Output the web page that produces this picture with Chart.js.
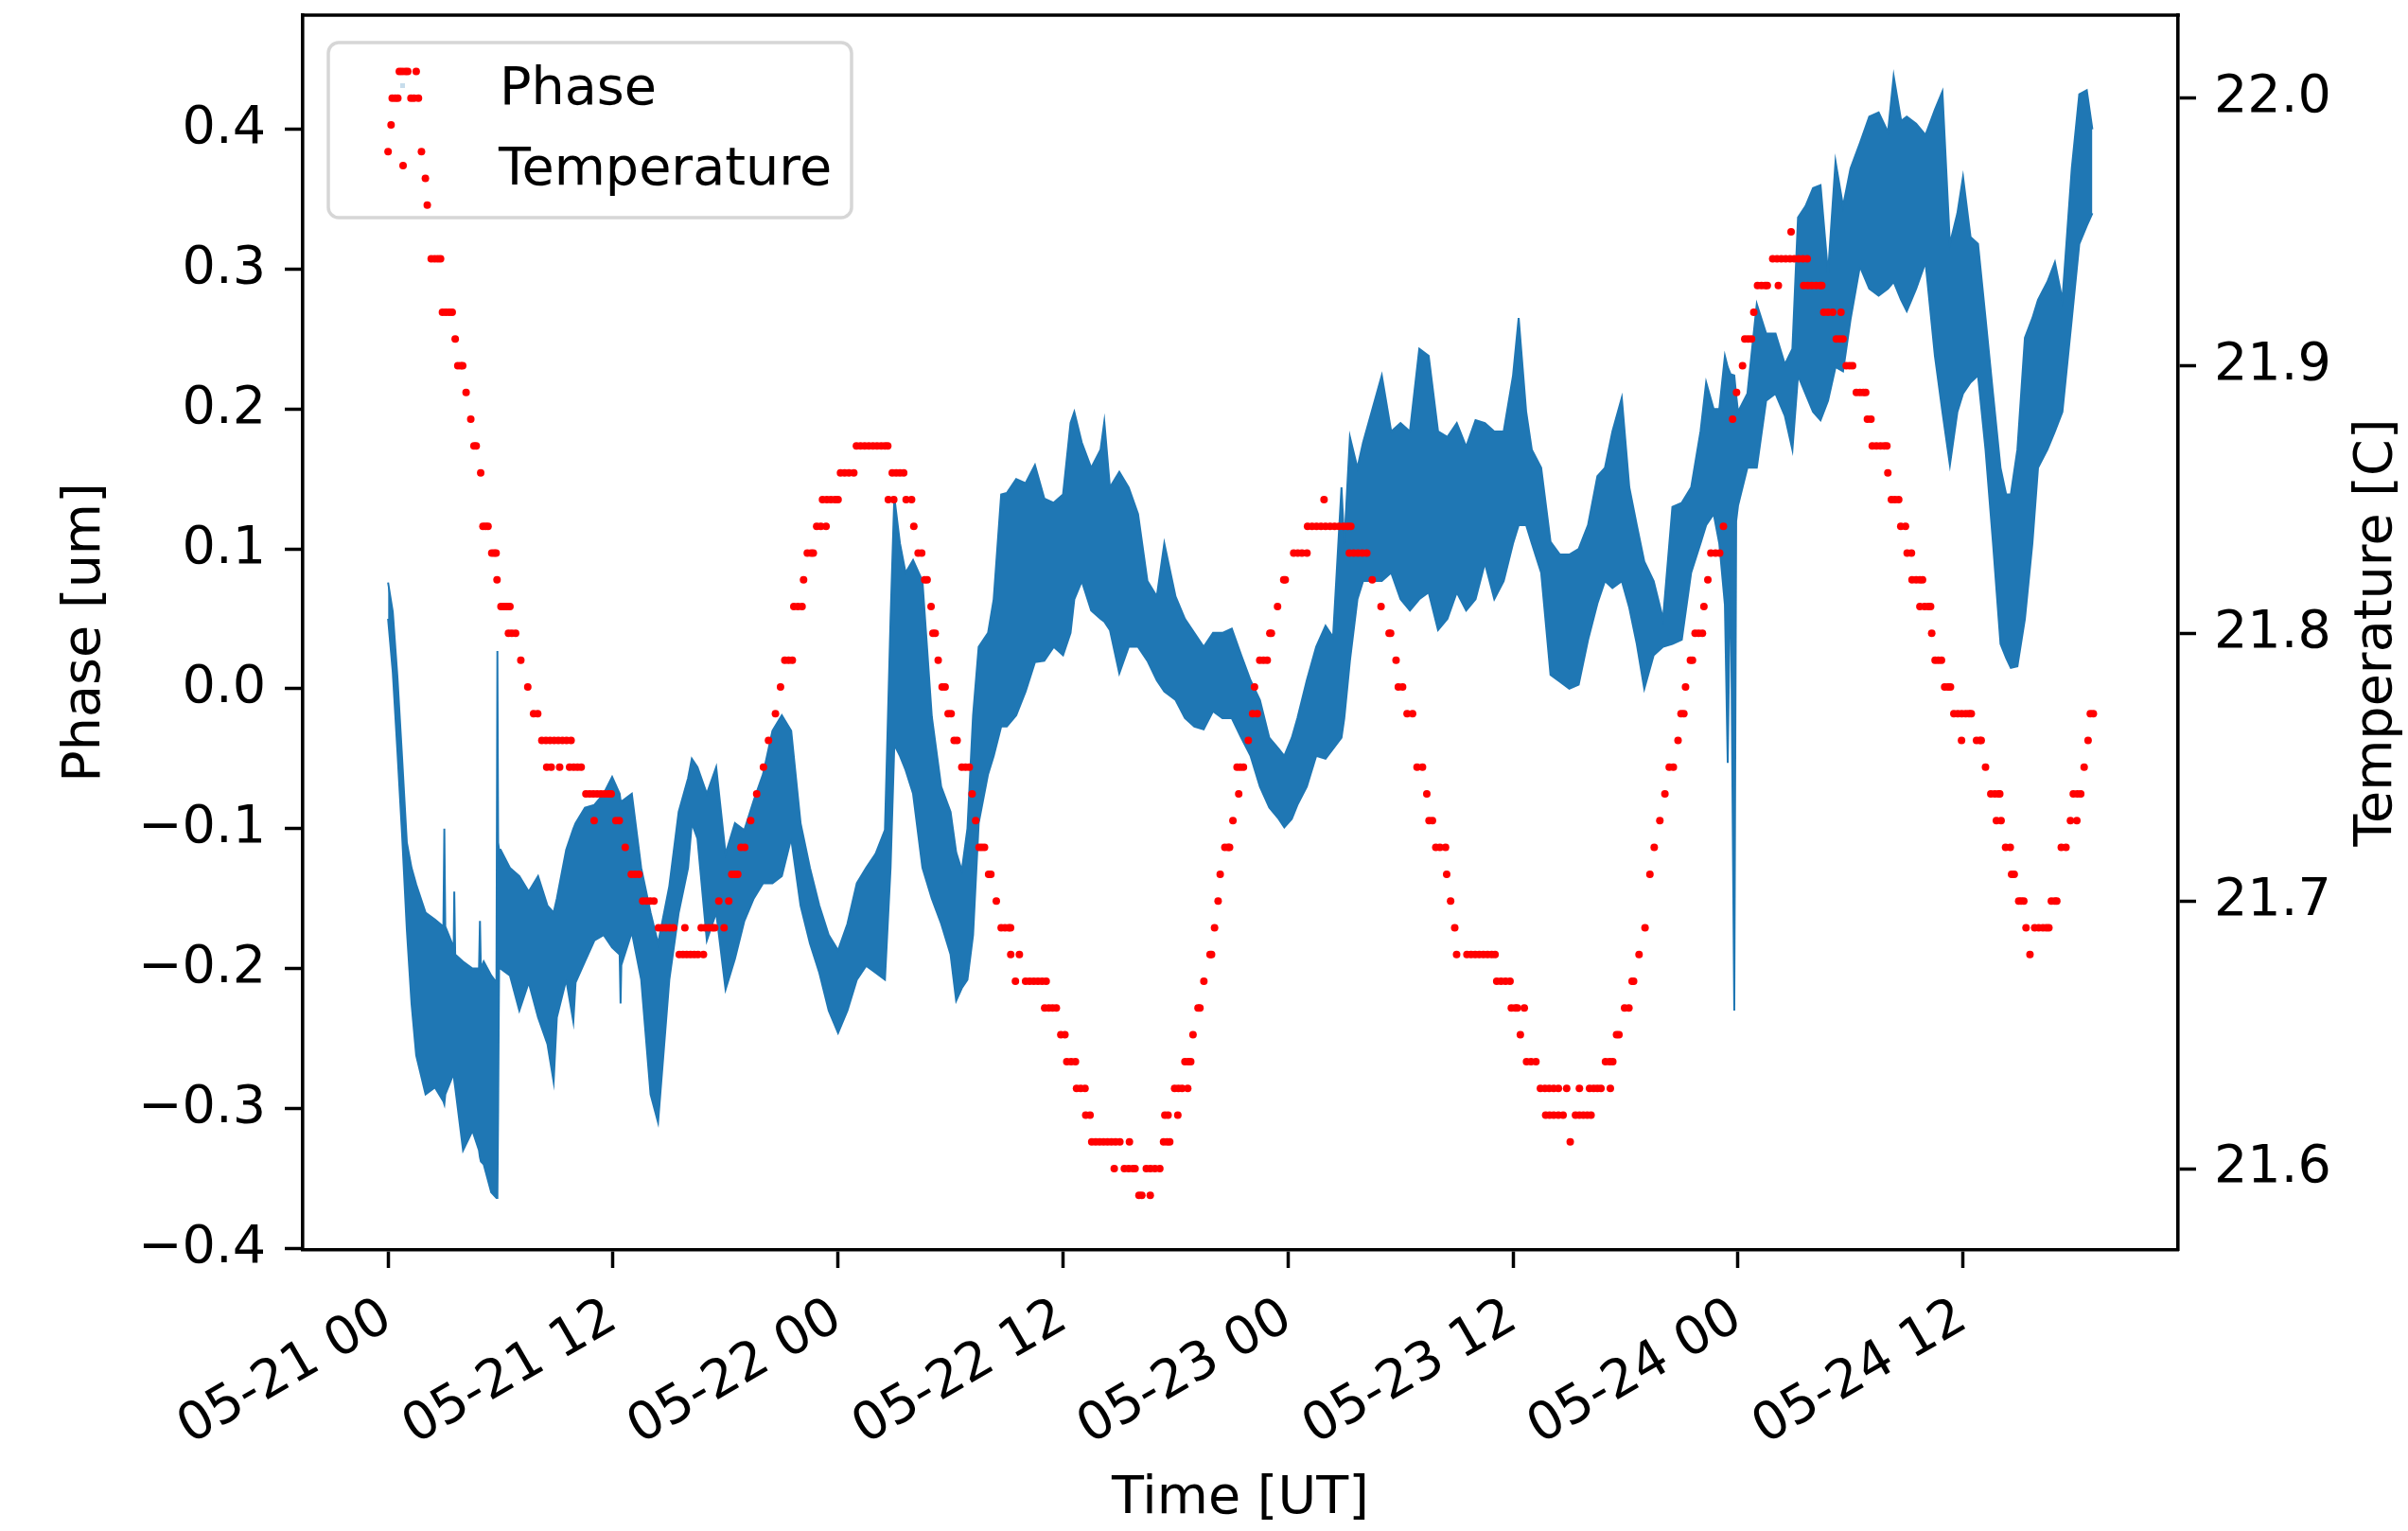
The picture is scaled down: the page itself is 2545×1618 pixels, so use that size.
<!DOCTYPE html>
<html>
<head>
<meta charset="utf-8">
<script src="https://cdn.jsdelivr.net/npm/chart.js@4.4.1/dist/chart.umd.min.js"></script>
<style>
html,body{margin:0;padding:0;background:#fff;}
#wrap{width:2545px;height:1618px;}
canvas{display:block;}
</style>
</head>
<body>
<div id="wrap"><canvas id="c" width="2545" height="1618"></canvas></div>
<script>
// ---- Phase [um]: envelope of the dense scatter band, hours since 05-21 00 UT ----
const phaseTime = [0.00,0.25,0.50,0.75,1.00,1.25,1.50,2.00,2.50,2.95,3.00,3.05,3.50,3.53,3.58,4.00,4.50,4.85,4.90,4.95,5.10,5.50,5.78,5.83,5.87,5.92,6.00,6.50,7.00,7.50,8.00,8.50,8.83,9.00,9.50,9.88,10.00,10.50,11.00,11.50,11.95,12.35,12.40,12.45,12.50,13.00,13.50,14.00,14.40,15.00,15.50,16.00,16.20,16.50,17.00,17.50,18.00,18.50,19.00,19.50,20.00,20.50,21.00,21.50,22.00,22.50,23.00,23.50,24.00,24.50,25.00,25.50,26.00,26.50,26.80,27.00,27.30,27.60,28.00,28.50,29.00,29.50,30.00,30.30,30.60,30.90,31.20,31.50,32.00,32.30,32.70,33.00,33.50,34.00,34.50,35.00,35.50,36.00,36.40,36.60,37.00,37.50,38.00,38.20,38.50,39.00,39.50,40.00,40.50,41.00,41.40,42.00,42.50,43.00,43.50,44.00,44.50,45.00,45.50,46.00,46.50,47.00,47.50,47.80,48.20,48.50,49.00,49.50,50.00,50.40,50.85,51.00,51.30,51.70,52.00,52.50,53.00,53.50,54.00,54.50,55.00,55.50,56.00,56.50,57.00,57.50,58.00,58.50,59.00,59.50,60.00,60.30,60.70,61.00,61.50,62.00,62.50,63.00,63.50,64.00,64.50,64.90,65.30,65.80,66.20,66.60,67.00,67.50,68.00,68.50,69.00,69.50,70.00,70.30,70.70,71.00,71.30,71.45,71.60,71.80,71.90,72.00,72.50,73.00,73.50,74.00,74.50,74.90,75.20,75.60,76.00,76.40,76.80,77.20,77.60,78.00,78.50,79.00,79.50,80.00,80.30,80.70,81.00,81.50,82.00,82.50,82.90,83.30,83.70,84.00,84.40,84.80,85.20,85.60,86.00,86.30,86.55,86.90,87.30,87.70,88.00,88.50,88.90,89.30,89.80,90.20,90.60,90.90];
const phaseHigh = [0.076,0.055,0.008,-0.050,-0.110,-0.128,-0.140,-0.160,-0.165,-0.170,-0.100,-0.170,-0.185,-0.145,-0.190,-0.195,-0.200,-0.200,-0.166,-0.200,-0.195,-0.205,-0.210,0.027,-0.110,-0.115,-0.115,-0.128,-0.134,-0.145,-0.134,-0.155,-0.160,-0.150,-0.115,-0.100,-0.096,-0.085,-0.083,-0.075,-0.063,-0.075,-0.080,-0.080,-0.080,-0.075,-0.128,-0.160,-0.182,-0.141,-0.088,-0.064,-0.050,-0.056,-0.075,-0.056,-0.118,-0.096,-0.101,-0.080,-0.061,-0.030,-0.019,-0.030,-0.096,-0.128,-0.155,-0.176,-0.187,-0.168,-0.139,-0.128,-0.118,-0.101,0.050,0.137,0.104,0.083,0.092,0.077,-0.020,-0.070,-0.088,-0.117,-0.130,-0.100,-0.019,0.030,0.040,0.064,0.139,0.140,0.150,0.147,0.160,0.136,0.133,0.139,0.190,0.198,0.176,0.158,0.171,0.191,0.144,0.155,0.144,0.125,0.077,0.066,0.104,0.066,0.050,0.040,0.030,0.040,0.040,0.043,0.024,0.006,-0.008,-0.035,-0.043,-0.048,-0.035,-0.021,0.006,0.030,0.045,0.037,0.144,0.104,0.180,0.158,0.176,0.200,0.224,0.184,0.190,0.184,0.243,0.238,0.184,0.180,0.190,0.173,0.192,0.190,0.184,0.184,0.224,0.265,0.198,0.171,0.158,0.105,0.096,0.096,0.100,0.117,0.152,0.158,0.184,0.208,0.144,0.117,0.091,0.077,0.050,0.130,0.133,0.144,0.184,0.219,0.200,0.200,0.238,0.230,0.225,0.224,0.210,0.198,0.211,0.275,0.254,0.254,0.232,0.243,0.337,0.345,0.358,0.360,0.297,0.377,0.345,0.372,0.390,0.409,0.412,0.398,0.438,0.406,0.409,0.404,0.396,0.414,0.427,0.318,0.340,0.366,0.323,0.318,0.265,0.211,0.158,0.139,0.139,0.171,0.251,0.265,0.278,0.291,0.305,0.278,0.372,0.425,0.428,0.400];
const phaseLow = [0.050,0.012,-0.045,-0.105,-0.172,-0.225,-0.262,-0.290,-0.285,-0.295,-0.297,-0.290,-0.275,-0.280,-0.285,-0.330,-0.316,-0.330,-0.335,-0.338,-0.340,-0.360,-0.364,-0.364,-0.300,-0.200,-0.200,-0.205,-0.230,-0.210,-0.235,-0.254,-0.281,-0.235,-0.208,-0.238,-0.210,-0.195,-0.180,-0.176,-0.185,-0.190,-0.225,-0.190,-0.195,-0.174,-0.208,-0.290,-0.310,-0.208,-0.160,-0.128,-0.096,-0.107,-0.180,-0.160,-0.215,-0.193,-0.166,-0.150,-0.139,-0.139,-0.134,-0.107,-0.155,-0.182,-0.203,-0.230,-0.246,-0.230,-0.208,-0.198,-0.203,-0.208,-0.128,-0.040,-0.048,-0.058,-0.075,-0.128,-0.150,-0.168,-0.190,-0.223,-0.214,-0.208,-0.176,-0.096,-0.061,-0.048,-0.027,-0.027,-0.019,-0.002,0.019,0.020,0.030,0.024,0.040,0.064,0.077,0.056,0.050,0.048,0.042,0.011,0.030,0.030,0.020,0.006,-0.002,-0.008,-0.021,-0.027,-0.029,-0.016,-0.021,-0.021,-0.035,-0.048,-0.070,-0.085,-0.093,-0.099,-0.093,-0.083,-0.070,-0.048,-0.050,-0.043,-0.035,-0.021,0.020,0.064,0.077,0.077,0.077,0.083,0.064,0.056,0.064,0.069,0.042,0.050,0.069,0.056,0.064,0.090,0.064,0.077,0.104,0.117,0.117,0.104,0.083,0.010,0.005,0.000,0.003,0.035,0.061,0.077,0.072,0.077,0.058,0.032,0.000,0.024,0.030,0.032,0.035,0.083,0.104,0.117,0.125,0.104,0.060,-0.053,0.100,-0.230,0.120,0.131,0.158,0.158,0.206,0.211,0.195,0.171,0.224,0.211,0.198,0.192,0.206,0.230,0.227,0.264,0.302,0.286,0.281,0.286,0.291,0.278,0.270,0.286,0.305,0.238,0.198,0.160,0.198,0.211,0.219,0.224,0.171,0.104,0.032,0.022,0.015,0.016,0.050,0.104,0.158,0.171,0.184,0.198,0.264,0.318,0.331,0.340];

// ---- Temperature [C]: each run = one reading level and the hours of the dots at it ----
const tempRunLevel = [
  21.98,21.99,22.00,22.01,22.00,22.01,21.98,21.97,21.96,21.94,21.92,21.91,21.90,21.89,21.88,21.87,21.86,21.84,21.83,21.82,21.81,21.80,
  21.79,21.78,21.77,21.76,21.75,21.74,21.73,21.72,21.71,21.70,21.69,21.68,21.70,21.71,21.72,21.73,21.74,21.75,21.76,21.77,21.78,21.79,21.81,21.82,21.83,21.84,21.85,21.86,21.87,21.86,21.85,21.84,21.83,21.82,21.81,21.80,
  21.79,21.78,21.77,21.76,21.75,21.74,21.73,21.72,21.71,21.70,21.69,21.68,21.67,21.66,21.65,21.64,21.63,21.62,21.61,21.60,21.59,
  21.61,21.62,21.63,21.64,21.65,21.66,21.67,21.68,21.69,21.70,21.71,21.72,21.73,21.74,21.75,21.76,21.77,21.78,21.79,21.80,21.81,21.82,21.83,21.84,21.85,21.83,21.82,21.81,21.80,
  21.79,21.78,21.77,21.75,21.74,21.73,21.72,21.71,21.70,21.69,21.68,21.67,21.66,21.65,21.64,21.63,21.62,21.61,
  21.64,21.65,21.66,21.67,21.68,21.69,21.71,21.72,21.73,21.74,21.75,21.76,21.77,21.78,21.79,21.80,21.81,21.82,21.83,21.84,21.88,21.89,21.90,21.91,21.92,21.93,21.94,21.95,
  21.93,21.92,21.91,21.90,21.89,21.88,21.87,21.86,21.85,21.84,21.83,21.82,21.81,21.80,21.79,21.78,21.77,21.76,21.75,21.74,21.73,21.72,21.71,21.70,21.69,21.68,
  21.70,21.72,21.73,21.74,21.75,21.76,21.77
];
const tempRunTimes = [
  [0.00],[0.16],[0.22,0.38,0.52],[0.60,0.75,0.92,1.05],[1.22,1.38,1.62],[1.50],[1.78],[1.99],[2.09],[2.30,2.48,2.65,2.80],[2.90,3.08,3.26,3.42],[3.58],[3.72,3.88,3.98],[4.16],[4.41],[4.58,4.70],[4.94],[5.06,5.20,5.33],[5.53,5.66,5.76],[5.81],[6.02,6.18,6.34,6.50],[6.42,6.60,6.80],
  [7.08],[7.45],[7.76,7.98],[8.20,8.42,8.64,8.86,9.08,9.30,9.52,9.76],[8.46,8.70,9.15,9.68,9.90,10.10,10.30],[10.55,10.75,10.95,11.15,11.35,11.55,11.75,11.90],[10.99,12.15,12.33],[12.65],[12.97,13.17,13.38],[13.58,13.78,13.98,14.18],[14.42,14.62,14.82,15.02,15.22,15.83,16.70,16.90,17.10,17.30,17.42,17.92],[15.53,15.73,15.93,16.13,16.33,16.53,16.82],[17.64,18.17],[18.33,18.50,18.65],[18.82,19.02],[19.34],[19.66],[20.02],[20.29],[20.66],[20.93],[21.16,21.36,21.56],[21.64,21.86,22.08],[22.16],[22.36,22.56,22.68],[22.86,23.08,23.36],[23.17,23.40,23.62,23.84,24.00],[24.13,24.35,24.58,24.84],[24.98,25.20,25.42,25.64,25.86,26.08,26.30,26.50,26.65],[26.89,27.10,27.30,27.50],[26.68,26.97,27.63,27.92],[28.04],[28.27,28.46],[28.62,28.75],[28.96],[29.06,29.18],
  [29.34],[29.55,29.71],[29.87,30.03],[30.19,30.35],[30.60,30.80,31.00],[31.15],[31.34],[31.52,31.66,31.81],[32.03,32.15],[32.44],[32.70,32.90,33.10,33.20],[33.21,33.67],[33.46,34.00,34.22,34.44,34.66,34.88,35.10],[35.02,35.24,35.44,35.64],[35.88,36.10],[36.20,36.43,36.66],[36.72,36.94,37.17],[37.21,37.44],[37.53,37.74,37.95,38.16,38.37,38.58,38.80,39.03,39.54],[38.73,39.27,39.50,39.73,39.84,40.44,40.66,40.90,41.16],[40.05,40.20,40.65],
  [41.36,41.55,41.69],[41.43,41.60,42.12],[41.95,42.15,42.35,42.65],[42.50,42.68,42.81],[42.93],[43.20,43.30],[43.51],[43.84,43.92],[44.08],[44.27],[44.38],[44.63,44.80,44.88],[45.06],[45.37],[45.28,45.45,45.62],[45.88],[46.11,46.36],[46.21],[46.49,46.69,46.89],[47.03,47.11],[47.44],[47.77,47.85],[48.30,48.52,48.74,49.01],[49.04,49.28,49.52,49.76,50.00,50.24,50.48,50.72,50.96,51.18,51.35],[49.92],[51.27,51.50,51.73,51.96,52.20],[52.49],[52.96],[53.39,53.47],
  [53.76],[53.88,54.11],[54.35,54.64],[54.88,55.17],[55.40],[55.52,55.70],[55.88,56.10,56.40],[56.46],[56.67],[56.89],[56.99,57.54,57.76,57.98,58.20,58.42,58.64,58.86,59.04],[59.13,59.36,59.60,59.84],[59.91,60.12,60.23,60.60],[60.39],[60.72,60.96,61.22],[61.46,61.70,61.93,62.17,62.42,62.86,63.54,64.08,64.30,64.50,64.69,65.19],[61.74,61.95,62.17,62.42,62.67,63.33,63.54,63.75,63.96,64.16],[63.05],
  [64.93,65.15,65.32],[65.52,65.65],[65.95,66.18],[66.35,66.43],[66.72],[67.04],[67.30],[67.53],[67.83],[68.10],[68.33,68.55],[68.80],[68.96,69.11],[69.20],[69.46,69.57],[69.71,69.90,70.10],[70.18],[70.39],[70.55,70.80,71.02],[71.22],[71.71],[71.92],[72.24],[72.36,72.54,72.72],[72.84],[73.04,73.25,73.45,73.56,74.15],[73.85,74.08,74.31,74.54,74.77,75.00,75.23,75.46,75.69],[74.83],
  [75.50,75.72,75.94,76.16,76.38,76.47],[76.57,76.80,77.05,77.49],[77.24,77.42,77.60],[77.77,77.95,78.11],[78.31,78.50,78.68,78.81],[78.90,79.09],[79.16,79.38,79.60,79.80,79.94],[79.99],[80.18,80.37,80.57],[80.68,80.93],[81.02,81.25],[81.28,81.50,81.70,81.84],[81.70,81.95,82.15,82.27],[82.33],[82.51,82.68,82.85],[83.02,83.20,83.33],[83.51,83.72,83.93,84.14,84.32,84.44],[83.92,84.72,84.90,84.97],[85.20],[85.48,85.70,85.90,85.96],[85.78,86.03],[86.27,86.52],[86.59,86.73],[86.97,87.10,87.24],[87.36,87.82,88.04,88.26,88.44,88.58],[87.57],
  [88.71,88.90,89.00],[89.24,89.49],[89.73,90.07],[89.88,90.10,90.28],[90.46],[90.67],[90.79,90.95]
];

// ---- axes ----
const xTickHours = [0,12,24,36,48,60,72,84];
const xTickLabels = ['05-21 00','05-21 12','05-22 00','05-22 12','05-23 00','05-23 12','05-24 00','05-24 12'];
const phaseTicks = [-0.4,-0.3,-0.2,-0.1,0.0,0.1,0.2,0.3,0.4];
const tempTicks = [21.6,21.7,21.8,21.9,22.0];

const FONT = 'DejaVu Sans';
const FS = 55.6;

const tempPoints = [];
tempRunLevel.forEach((lvl, i) => tempRunTimes[i].forEach(t => tempPoints.push({x: t, y: lvl})));
const phaseHighPts = phaseTime.map((t, i) => ({x: t, y: phaseHigh[i]}));
const phaseLowPts = phaseTime.map((t, i) => ({x: t, y: phaseLow[i]}));

const fmt1 = v => (v < -1e-9 ? '\u2212' : '') + Math.abs(v).toFixed(1);

const tickGrid = {display: true, drawOnChartArea: false, drawTicks: true, tickLength: 19, tickWidth: 3.5, tickColor: '#000'};
const axisBorder = {display: true, color: '#000', width: 3.6};
const tickFont = {family: FONT, size: FS};

const decor = {
  id: 'decor',
  beforeDatasetDraw(chart, args) {
    if (args.index !== 0) return;
    const ctx = chart.ctx, a = chart.chartArea;
    ctx.save();
    const bx = a.left + 27, by = a.top + 29;
    ctx.beginPath();
    ctx.roundRect(bx, by, 553, 185, 11);
    ctx.fillStyle = 'rgba(255,255,255,0.8)';
    ctx.fill();
    ctx.lineWidth = 3.5;
    ctx.strokeStyle = 'rgba(204,204,204,0.8)';
    ctx.stroke();
    ctx.fillStyle = 'rgba(31,119,180,0.25)';
    ctx.fillRect(bx + 76, by + 43, 5, 5);
    ctx.fillStyle = '#ff0000';
    ctx.beginPath(); ctx.arc(bx + 79, by + 130, 4, 0, Math.PI * 2); ctx.fill();
    ctx.fillStyle = '#000';
    ctx.font = FS + 'px "' + FONT + '"';
    ctx.textAlign = 'left';
    ctx.textBaseline = 'alphabetic';
    ctx.fillText(chart.data.datasets[1].label, bx + 181, by + 65);
    ctx.fillText(chart.data.datasets[0].label, bx + 180, by + 150);
    ctx.restore();
  },
  afterDraw(chart) {
    const ctx = chart.ctx, a = chart.chartArea;
    ctx.save();
    ctx.strokeStyle = '#000';
    ctx.lineWidth = 3.6;
    ctx.beginPath();
    ctx.moveTo(a.left - 1.8, a.top);
    ctx.lineTo(a.right + 1.8, a.top);
    ctx.stroke();
    ctx.translate(2513, (a.top + a.bottom) / 2);
    ctx.rotate(-Math.PI / 2);
    ctx.font = FS + 'px "' + FONT + '"';
    ctx.fillStyle = '#000';
    ctx.textAlign = 'center';
    ctx.textBaseline = 'middle';
    ctx.fillText('Temperature [C]', 0, 0);
    ctx.restore();
  }
};

new Chart(document.getElementById('c'), {
  type: 'scatter',
  data: {
    datasets: [
      {label: 'Temperature', data: tempPoints, xAxisID: 'x', yAxisID: 'y2', showLine: false,
       pointRadius: 4, pointHoverRadius: 4, pointBackgroundColor: '#ff0000', pointBorderWidth: 0, order: 0},
      {label: 'Phase', data: phaseHighPts, xAxisID: 'x', yAxisID: 'y', showLine: true, tension: 0,
       borderColor: '#1f77b4', borderWidth: 2, pointRadius: 0, fill: '+1', backgroundColor: '#1f77b4', order: 1},
      {label: 'Phase low', data: phaseLowPts, xAxisID: 'x', yAxisID: 'y', showLine: true, tension: 0,
       borderColor: '#1f77b4', borderWidth: 2, pointRadius: 0, fill: false, backgroundColor: '#1f77b4', order: 2}
    ]
  },
  options: {
    responsive: false,
    animation: false,
    devicePixelRatio: 1,
    layout: {padding: {top: 16, left: 0, right: 0, bottom: 0}},
    plugins: {legend: {display: false}, tooltip: {enabled: false}},
    scales: {
      x: {
        type: 'linear', position: 'bottom', min: -4.55, max: 95.47,
        afterBuildTicks: s => { s.ticks = xTickHours.map(v => ({value: v})); },
        afterFit: s => { s.height = 297; s.paddingLeft = 0; s.paddingRight = 0; s.paddingTop = 0; s.paddingBottom = 0; },
        ticks: {autoSkip: false, minRotation: 30, maxRotation: 30, padding: 20, color: '#000', font: tickFont,
                callback: v => { const i = xTickHours.indexOf(v); return i >= 0 ? xTickLabels[i] : ''; }},
        grid: tickGrid, border: axisBorder,
        title: {display: true, text: 'Time [UT]', color: '#000', font: tickFont, padding: {top: 0, bottom: 0}}
      },
      y: {
        type: 'linear', position: 'left', min: -0.4012, max: 0.4816,
        afterBuildTicks: s => { s.ticks = phaseTicks.map(v => ({value: v})); },
        afterFit: s => { s.width = 320; s.paddingTop = 0; s.paddingBottom = 0; },
        ticks: {autoSkip: false, padding: 20, color: '#000', font: tickFont, callback: v => fmt1(v)},
        grid: tickGrid, border: axisBorder,
        title: {display: true, text: 'Phase [um]', color: '#000', font: tickFont, padding: {top: 57, bottom: 0}}
      },
      y2: {
        type: 'linear', position: 'right', min: 21.5696, max: 22.031,
        afterBuildTicks: s => { s.ticks = tempTicks.map(v => ({value: v})); },
        afterFit: s => { s.width = 243; s.paddingTop = 0; s.paddingBottom = 0; },
        ticks: {autoSkip: false, padding: 19, color: '#000', font: tickFont, callback: v => v.toFixed(1)},
        grid: tickGrid, border: axisBorder,
        title: {display: false, text: 'Temperature [C]'}
      }
    }
  },
  plugins: [decor]
});
</script>
</body>
</html>
